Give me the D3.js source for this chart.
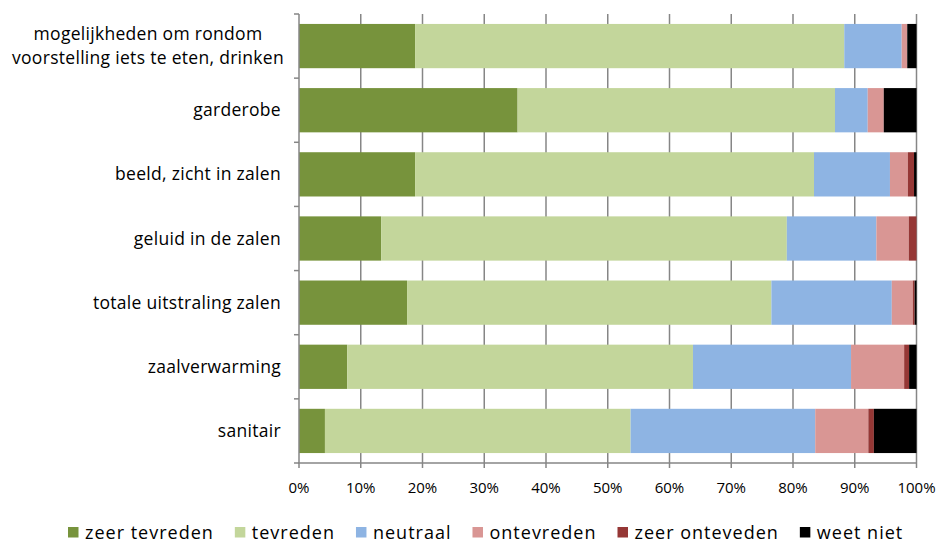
<!DOCTYPE html>
<html><head><meta charset="utf-8">
<script src="https://cdn.jsdelivr.net/npm/d3@7"></script>
<style>body{margin:0;background:#fff}svg{display:block}text{font-family:"Open Sans",Lato,sans-serif;fill:#000}</style>
</head><body><svg id="c" width="939" height="543"></svg>
<script>
const categories = [
  ["mogelijkheden om rondom","voorstelling iets te eten, drinken"],
  ["garderobe"],
  ["beeld, zicht in zalen"],
  ["geluid in de zalen"],
  ["totale uitstraling zalen"],
  ["zaalverwarming"],
  ["sanitair"]
];
const seriesNames = ["zeer tevreden","tevreden","neutraal","ontevreden","zeer onteveden","weet niet"];
const zeerTevreden = [18.8, 35.4, 18.8, 13.3, 17.5, 7.8, 4.2];
const tevreden     = [69.5, 51.4, 64.6, 65.7, 59.0, 56.0, 49.5];
const neutraal     = [9.3, 5.3, 12.3, 14.5, 19.5, 25.6, 29.9];
const ontevreden   = [0.9, 2.6, 2.9, 5.25, 3.4, 8.6, 8.6];
const zeerOnteveden= [0.0, 0.0, 1.0, 1.25, 0.3, 0.8, 0.9];
const weetNiet     = [1.5, 5.3, 0.4, 0.0, 0.3, 1.2, 6.9];
const tickValues = [0,10,20,30,40,50,60,70,80,90,100];
const colors = ["#77933C","#C3D69B","#8EB4E3","#D99694","#953735","#000000"];

const seriesVals = [zeerTevreden,tevreden,neutraal,ontevreden,zeerOnteveden,weetNiet];
const rows = categories.map((c,i)=>{const o={key:i};seriesNames.forEach((s,j)=>o[s]=seriesVals[j][i]);return o;});
const stack = d3.stack().keys(seriesNames)(rows);

const svg = d3.select("#c");
const L=299, R=916.5, T=14, B=463;
const x = d3.scaleLinear().domain([0,100]).range([L,R]);
const y = d3.scaleBand().domain(d3.range(categories.length)).range([T,B]).paddingInner(0.31).paddingOuter(0.155);

// gridlines
svg.append("g").selectAll("line").data(tickValues.slice(1)).join("line")
  .attr("x1",d=>x(d)).attr("x2",d=>x(d)).attr("y1",T).attr("y2",B+5)
  .attr("stroke","#868686").attr("stroke-width",1.5);

// bars
svg.append("g").selectAll("g").data(stack).join("g").attr("fill",(d,i)=>colors[i])
  .selectAll("rect").data(d=>d).join("rect")
  .attr("x",d=>x(d[0])).attr("width",d=>Math.max(0,x(d[1])-x(d[0])))
  .attr("y",(d,i)=>y(i)).attr("height",y.bandwidth());

// y axis line + ticks
const bandStep = (B-T)/categories.length;
svg.append("line").attr("x1",L).attr("x2",L).attr("y1",T).attr("y2",B).attr("stroke","#868686").attr("stroke-width",1.5);
svg.append("g").selectAll("line").data(d3.range(categories.length+1)).join("line")
  .attr("x1",L-5).attr("x2",L).attr("y1",d=>T+d*bandStep).attr("y2",d=>T+d*bandStep)
  .attr("stroke","#868686").attr("stroke-width",1.5);
// x axis
svg.append("line").attr("x1",L-1).attr("x2",R).attr("y1",B).attr("y2",B).attr("stroke","#868686").attr("stroke-width",1.5);
svg.append("line").attr("x1",L).attr("x2",L).attr("y1",B).attr("y2",B+5).attr("stroke","#868686").attr("stroke-width",1.5);
svg.append("g").selectAll("text").data(tickValues).join("text")
  .attr("x",d=>x(d)).attr("y",B+25).attr("dy","0.35em").attr("text-anchor","middle").attr("font-size",15)
  .text(d=>d+"%");

// category labels
categories.forEach((lines,i)=>{
  const cy = y(i)+y.bandwidth()/2;
  if(lines.length===1){
    svg.append("text").attr("x",281).attr("y",cy).attr("dy","0.35em").attr("text-anchor","end").attr("font-size",17.5).attr("letter-spacing",0.3).text(lines[0]);
  } else {
    lines.forEach((t,k)=>svg.append("text").attr("x",148).attr("y",cy+(k-0.5)*24).attr("dy","0.35em").attr("text-anchor","middle").attr("font-size",17.5).attr("letter-spacing",0.3).text(t));
  }
});

// legend
let lx = 68; const ly = 533;
seriesNames.forEach((s,i)=>{
  svg.append("rect").attr("x",lx).attr("y",ly-6).attr("width",10.5).attr("height",10.5).attr("fill",colors[i]);
  const t = svg.append("text").attr("x",lx+17).attr("y",ly).attr("dy","0.35em").attr("font-size",18).attr("letter-spacing",1.0).text(s);
  lx += 17 + t.node().getBBox().width + 21;
});
</script></body></html>
